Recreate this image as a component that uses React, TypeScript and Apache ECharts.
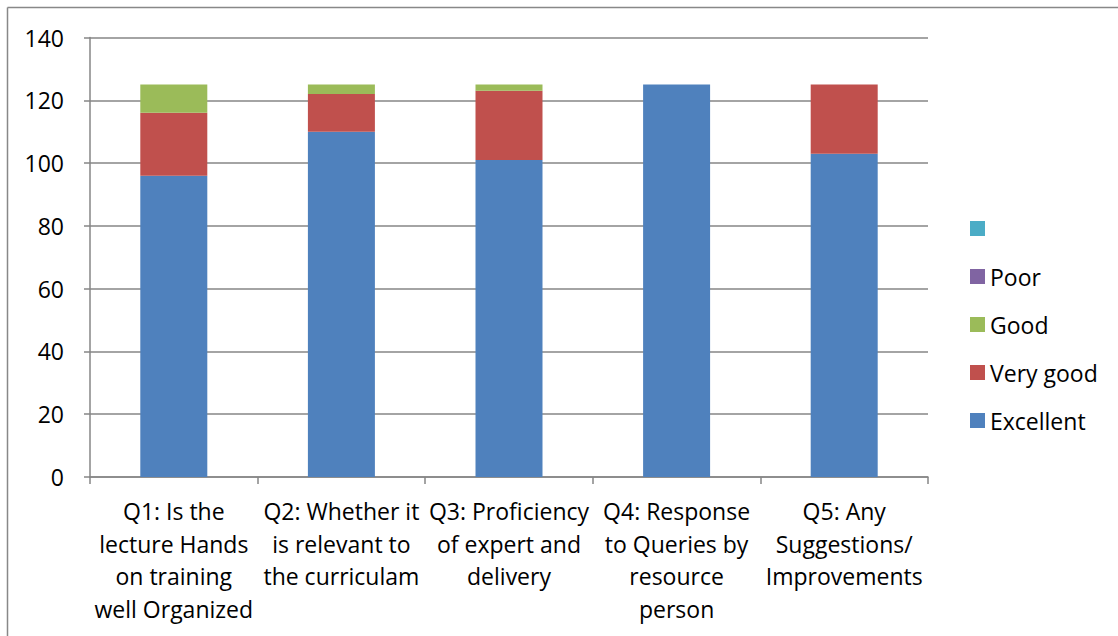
import React, { useEffect, useRef } from "react";
import * as echarts from "echarts";

const categories = [
  "Q1: Is the\nlecture Hands\non training\nwell Organized",
  "Q2: Whether it\nis relevant to\nthe curriculam",
  "Q3: Proficiency\nof expert and\ndelivery",
  "Q4: Response\nto Queries by\nresource\nperson",
  "Q5: Any\nSuggestions/\nImprovements",
];
const excellent = [96, 110, 101, 125, 103];
const veryGood = [20, 12, 22, 0, 22];
const good = [9, 3, 2, 0, 0];
const poor = [0, 0, 0, 0, 0];
const blank = [0, 0, 0, 0, 0];
const yTicks = { min: 0, max: 140, interval: 20 };
const legendOrder = [" ", "Poor", "Good", "Very good", "Excellent"];

const FONT = "'Open Sans', 'Noto Sans', sans-serif";

export default function App() {
  const ref = useRef<HTMLDivElement>(null);
  useEffect(() => {
    if (!ref.current) return;
    const chart = echarts.init(ref.current, undefined, { renderer: "svg" });
    const mk = (name: string, data: number[], color: string) => ({
      name,
      type: "bar",
      stack: "total",
      data,
      barWidth: 67,
      itemStyle: { color },
    });
    chart.setOption({
      animation: false,
      backgroundColor: "#ffffff",
      textStyle: { fontFamily: FONT },
      grid: { left: 90, right: 190, top: 37.5, bottom: 159, containLabel: false },
      graphic: [
        {
          type: "line",
          shape: { x1: 7.5, y1: 7.5, x2: 1118, y2: 7.5 },
          style: { stroke: "#888888", lineWidth: 1.5 },
        },
        {
          type: "line",
          shape: { x1: 7.5, y1: 7.5, x2: 7.5, y2: 636 },
          style: { stroke: "#888888", lineWidth: 1.5 },
        },
      ],
      legend: {
        orient: "vertical",
        left: 970,
        top: 217,
        padding: 0,
        itemWidth: 15,
        itemHeight: 15,
        itemGap: 25,
        icon: "rect",
        data: legendOrder,
        textStyle: { fontFamily: FONT, fontSize: 23, color: "#000", lineHeight: 23 },
      },
      xAxis: {
        type: "category",
        data: categories,
        axisLine: { lineStyle: { color: "#868686", width: 1.5 } },
        axisTick: { show: true, length: 7, lineStyle: { color: "#868686", width: 1.5 } },
        axisLabel: {
          interval: 0,
          margin: 18,
          fontFamily: FONT,
          fontSize: 23,
          lineHeight: 32.5,
          color: "#000",
          align: "center",
        },
      },
      yAxis: {
        type: "value",
        min: yTicks.min,
        max: yTicks.max,
        interval: yTicks.interval,
        axisLine: { show: true, lineStyle: { color: "#868686", width: 1.5 } },
        axisTick: { show: true, length: 6, lineStyle: { color: "#868686", width: 1.5 } },
        splitLine: { show: true, lineStyle: { color: "#868686", width: 1.5 } },
        axisLabel: { margin: 26, fontFamily: FONT, fontSize: 23, color: "#000" },
      },
      series: [
        mk("Excellent", excellent, "#4F81BD"),
        mk("Very good", veryGood, "#C0504D"),
        mk("Good", good, "#9BBB59"),
        mk("Poor", poor, "#8064A2"),
        mk(" ", blank, "#4BACC6"),
      ],
    });
    return () => chart.dispose();
  }, []);
  return (
    <div
      ref={ref}
      style={{ position: "absolute", left: 0, top: 0, width: 1118, height: 636 }}
    />
  );
}
